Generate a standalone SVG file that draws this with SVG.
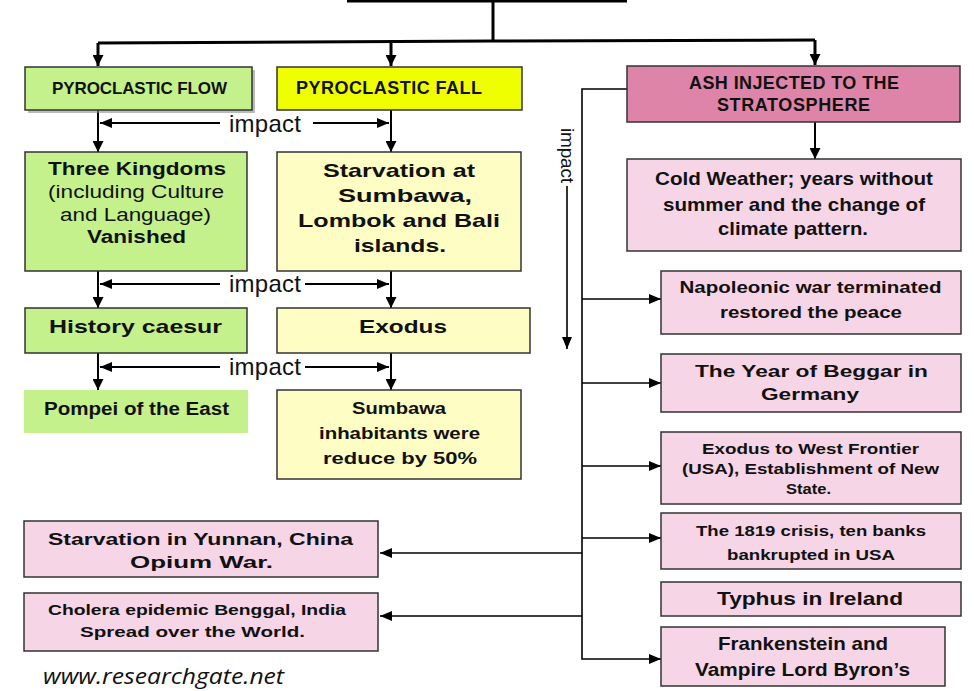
<svg xmlns="http://www.w3.org/2000/svg" width="974" height="691" viewBox="0 0 974 691">
  <defs>
    <marker id="hd" viewBox="0 0 10 10" refX="10" refY="5" markerWidth="11" markerHeight="11" markerUnits="userSpaceOnUse" orient="auto">
      <path d="M0,0 L10,5 L0,10 z" fill="#000"/>
    </marker>
    <marker id="hs" viewBox="0 0 12 10" refX="12" refY="5" markerWidth="12" markerHeight="10" markerUnits="userSpaceOnUse" orient="auto">
      <path d="M0,0 L12,5 L0,10 z" fill="#000"/>
    </marker>
  </defs>
  <style>
    text { font-family: "Liberation Sans", Arial, sans-serif; fill: #111; }
    .c { text-anchor: middle; }
    .b { font-weight: bold; }
    .box { stroke: #333; stroke-width: 1.5; }
    .grn { fill: #c4f18c; }
    .ylw { fill: #fdfdc4; }
    .pnk { fill: #f6d5e6; }
    .trunk { fill: none; stroke: #000; stroke-width: 3; }
    .lk { fill: none; stroke: #000; stroke-width: 2; }
    .thin { fill: none; stroke: #000; stroke-width: 1.6; }
    .imp { font-size: 24px; }
  </style>

  <!-- connectors -->
  <g id="connectors">
    <path class="trunk" d="M347,1 H627"/>
    <path class="trunk" d="M493,0 V41"/>
    <path class="trunk" d="M98,43 L493,41 L815,40"/>
    <path class="trunk" d="M98,43 V66" marker-end="url(#hd)"/>
    <path class="trunk" d="M391,41.5 V66" marker-end="url(#hd)"/>
    <path class="trunk" d="M815,40 V65" marker-end="url(#hd)"/>

    <!-- left columns -->
    <path class="lk" d="M98,110 V152" marker-end="url(#hd)"/>
    <path class="lk" d="M391,110 V152" marker-end="url(#hd)"/>
    <path class="lk" d="M98,271 V308" marker-end="url(#hd)"/>
    <path class="lk" d="M391,271 V308" marker-end="url(#hd)"/>
    <path class="lk" d="M98,353 V390" marker-end="url(#hd)"/>
    <path class="lk" d="M391,353 V390" marker-end="url(#hd)"/>

    <!-- impact rows -->
    <path class="lk" d="M220,123 H100" marker-end="url(#hs)"/>
    <path class="lk" d="M313,123 H389" marker-end="url(#hs)"/>
    <text class="c imp" x="265" y="132" textLength="72">impact</text>
    <path class="lk" d="M220,284 H100" marker-end="url(#hs)"/>
    <path class="lk" d="M305,284 H389" marker-end="url(#hs)"/>
    <text class="c imp" x="265" y="292" textLength="72">impact</text>
    <path class="lk" d="M220,367 H100" marker-end="url(#hs)"/>
    <path class="lk" d="M305,367 H389" marker-end="url(#hs)"/>
    <text class="c imp" x="265" y="375" textLength="72">impact</text>

    <!-- stratosphere branch -->
    <path class="lk" d="M815,122 V159" marker-end="url(#hd)"/>
    <path class="thin" d="M627,89 H582 V659 H661" marker-end="url(#hs)"/>
    <path class="thin" d="M582,299 H661" marker-end="url(#hs)"/>
    <path class="thin" d="M582,383 H661" marker-end="url(#hs)"/>
    <path class="thin" d="M582,466 H661" marker-end="url(#hs)"/>
    <path class="thin" d="M582,538 H661" marker-end="url(#hs)"/>
    <path class="thin" d="M582,553 H380" marker-end="url(#hs)"/>
    <path class="thin" d="M582,616 H380" marker-end="url(#hs)"/>
    <text transform="translate(561,128) rotate(90)" font-size="19" textLength="55">impact</text>
    <path class="thin" d="M567,186 V349" marker-end="url(#hs)"/>
  </g>

  <g id="pyroclastic-flow">
    <rect x="28" y="70" width="227" height="43" fill="#8c8c8c" opacity="0.6"/>
    <rect class="box grn" x="25" y="67" width="227" height="43"/>
    <text class="c b" x="139.5" y="94" font-size="17" textLength="175">PYROCLASTIC FLOW</text>
  </g>

  <g id="pyroclastic-fall">
    <rect class="box" x="277" y="67" width="245" height="43" fill="#f0ff00"/>
    <text class="b" x="296" y="94" font-size="18" textLength="186">PYROCLASTIC FALL</text>
  </g>

  <g id="ash-stratosphere">
    <rect class="box" x="627" y="66" width="333" height="56" fill="#de84a8"/>
    <text class="c b" x="794" y="89" font-size="18" textLength="210">ASH INJECTED TO THE</text>
    <text class="c b" x="793.5" y="111" font-size="18" textLength="153">STRATOSPHERE</text>
  </g>

  <g id="three-kingdoms">
    <rect class="box grn" x="25" y="152" width="222" height="119"/>
    <text class="c b" x="137" y="175" font-size="17.5" textLength="178" lengthAdjust="spacingAndGlyphs">Three Kingdoms</text>
    <text class="c" x="136" y="198" font-size="17.5" textLength="176" lengthAdjust="spacingAndGlyphs">(including Culture</text>
    <text class="c" x="135.5" y="221" font-size="17.5" textLength="151" lengthAdjust="spacingAndGlyphs">and Language)</text>
    <text class="c b" x="136.5" y="243" font-size="17.5" textLength="99" lengthAdjust="spacingAndGlyphs">Vanished</text>
  </g>

  <g id="starvation-sumbawa">
    <rect class="box ylw" x="277" y="152" width="244" height="119"/>
    <text class="c b" x="399" y="177" font-size="18.5" textLength="152" lengthAdjust="spacingAndGlyphs">Starvation at</text>
    <text class="c b" x="405" y="202" font-size="18.5" textLength="134" lengthAdjust="spacingAndGlyphs">Sumbawa,</text>
    <text class="c b" x="399" y="227" font-size="18.5" textLength="202" lengthAdjust="spacingAndGlyphs">Lombok and Bali</text>
    <text class="c b" x="400" y="252" font-size="18.5" textLength="92" lengthAdjust="spacingAndGlyphs">islands.</text>
  </g>

  <g id="history-caesur">
    <rect class="box grn" x="25" y="308" width="222" height="45"/>
    <text class="c b" x="135.5" y="333" font-size="19" textLength="173" lengthAdjust="spacingAndGlyphs">History caesur</text>
  </g>

  <g id="exodus">
    <rect class="box ylw" x="277" y="308" width="253" height="45"/>
    <text class="c b" x="403" y="333" font-size="19" textLength="88" lengthAdjust="spacingAndGlyphs">Exodus</text>
  </g>

  <g id="pompei-east">
    <rect class="grn" x="24" y="390" width="224" height="43"/>
    <text class="c b" x="136.5" y="415" font-size="17.5" textLength="185" lengthAdjust="spacingAndGlyphs">Pompei of the East</text>
  </g>

  <g id="sumbawa-inhabitants">
    <rect class="box ylw" x="277" y="390" width="244" height="89"/>
    <text class="c b" x="399" y="414" font-size="16.5" textLength="94" lengthAdjust="spacingAndGlyphs">Sumbawa</text>
    <text class="c b" x="399.5" y="439" font-size="16.5" textLength="161" lengthAdjust="spacingAndGlyphs">inhabitants were</text>
    <text class="c b" x="400" y="464" font-size="16.5" textLength="154" lengthAdjust="spacingAndGlyphs">reduce by 50%</text>
  </g>

  <g id="cold-weather">
    <rect class="box pnk" x="627" y="159" width="334" height="92"/>
    <text class="c b" x="794" y="185" font-size="18.5" textLength="278" lengthAdjust="spacingAndGlyphs">Cold Weather; years without</text>
    <text class="c b" x="794" y="211" font-size="18.5" textLength="262" lengthAdjust="spacingAndGlyphs">summer and the change of</text>
    <text class="c b" x="793" y="235" font-size="18.5" textLength="150" lengthAdjust="spacingAndGlyphs">climate pattern.</text>
  </g>

  <g id="napoleonic-war">
    <rect class="box pnk" x="661" y="271" width="300" height="63"/>
    <text class="c b" x="810.5" y="293" font-size="17" textLength="262" lengthAdjust="spacingAndGlyphs">Napoleonic war terminated</text>
    <text class="c b" x="811" y="318" font-size="17" textLength="182" lengthAdjust="spacingAndGlyphs">restored the peace</text>
  </g>

  <g id="year-of-beggar">
    <rect class="box pnk" x="661" y="354" width="300" height="58"/>
    <text class="c b" x="811.5" y="377" font-size="17" textLength="233" lengthAdjust="spacingAndGlyphs">The Year of Beggar in</text>
    <text class="c b" x="810" y="400" font-size="17" textLength="98" lengthAdjust="spacingAndGlyphs">Germany</text>
  </g>

  <g id="exodus-west">
    <rect class="box pnk" x="661" y="432" width="300" height="72"/>
    <text class="c b" x="810.5" y="454" font-size="15.5" textLength="217" lengthAdjust="spacingAndGlyphs">Exodus to West Frontier</text>
    <text class="c b" x="810.5" y="474" font-size="15.5" textLength="257" lengthAdjust="spacingAndGlyphs">(USA), Establishment of New</text>
    <text class="c b" x="808.5" y="494" font-size="15.5" textLength="45" lengthAdjust="spacingAndGlyphs">State.</text>
  </g>

  <g id="crisis-1819">
    <rect class="box pnk" x="661" y="513" width="300" height="56"/>
    <text class="c b" x="811" y="536" font-size="15.5" textLength="230" lengthAdjust="spacingAndGlyphs">The 1819 crisis, ten banks</text>
    <text class="c b" x="811" y="560" font-size="15.5" textLength="168" lengthAdjust="spacingAndGlyphs">bankrupted in USA</text>
  </g>

  <g id="typhus">
    <rect class="box pnk" x="661" y="582" width="300" height="34"/>
    <text class="c b" x="810" y="605" font-size="18.5" textLength="186" lengthAdjust="spacingAndGlyphs">Typhus in Ireland</text>
  </g>

  <g id="frankenstein">
    <rect class="box pnk" x="661" y="627" width="284" height="59"/>
    <text class="c b" x="803" y="650" font-size="18.5" textLength="170" lengthAdjust="spacingAndGlyphs">Frankenstein and</text>
    <text class="c b" x="802.5" y="676" font-size="18.5" textLength="215" lengthAdjust="spacingAndGlyphs">Vampire Lord Byron’s</text>
  </g>

  <g id="yunnan">
    <rect class="box pnk" x="24" y="521" width="354" height="56"/>
    <text class="c b" x="200.5" y="545" font-size="17" textLength="305" lengthAdjust="spacingAndGlyphs">Starvation in Yunnan, China</text>
    <text class="c b" x="201.5" y="568" font-size="17" textLength="143" lengthAdjust="spacingAndGlyphs">Opium War.</text>
  </g>

  <g id="cholera">
    <rect class="box pnk" x="24" y="593" width="354" height="58"/>
    <text class="c b" x="197" y="615" font-size="15" textLength="298" lengthAdjust="spacingAndGlyphs">Cholera epidemic Benggal, India</text>
    <text class="c b" x="192.5" y="637" font-size="15" textLength="225" lengthAdjust="spacingAndGlyphs">Spread  over the World.</text>
  </g>

  <text x="43" y="684" font-style="italic" font-size="21" textLength="241" lengthAdjust="spacingAndGlyphs" style="font-family:'Open Sans', sans-serif">www.researchgate.net</text>
</svg>
